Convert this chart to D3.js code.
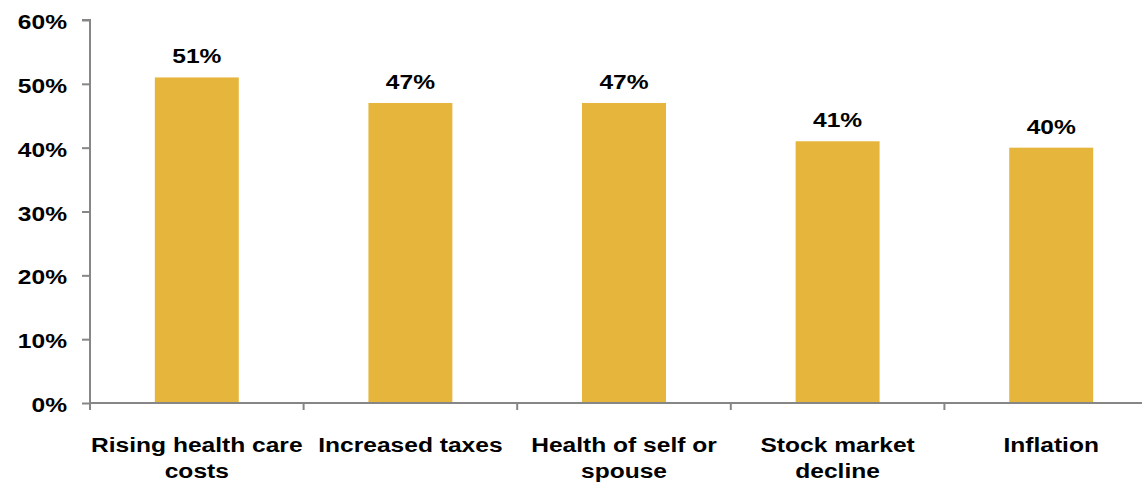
<!DOCTYPE html>
<html>
<head>
<meta charset="utf-8">
<script src="https://cdn.jsdelivr.net/npm/d3@7"></script>
<style>
  html, body { margin: 0; padding: 0; background: #fff; }
  svg { display: block; font-family: "Liberation Sans", Arial, sans-serif; }
</style>
</head>
<body>
<svg id="chart" width="1142" height="485"></svg>
<script>
// Top retirement concerns (share of respondents)
const categories = [
  "Rising health care\ncosts",
  "Increased taxes",
  "Health of self or\nspouse",
  "Stock market\ndecline",
  "Inflation"
];
const values = [51, 47, 47, 41, 40];
const yTicks = [0, 10, 20, 30, 40, 50, 60];

const svg = d3.select("#chart");
const barColor = "#E6B53B";
const axisColor = "#868686";
const fontSize = 21;
const stretch = 1.17;   // wide lettering used throughout the chart

// Plot area: the last category extends past the right edge of the page
const x = d3.scaleBand()
  .domain(categories)
  .range([90, 1158])
  .paddingInner(0.607)
  .paddingOuter(0.3035);

const y = d3.scaleLinear()
  .domain([0, 60])
  .range([403, 20]);

// Bars
svg.append("g")
  .selectAll("rect")
  .data(values)
  .join("rect")
  .attr("x", (d, i) => x(categories[i]))
  .attr("y", d => y(d))
  .attr("width", x.bandwidth())
  .attr("height", d => y(0) - y(d))
  .attr("fill", barColor);

// Value labels
svg.append("g")
  .selectAll("text")
  .data(values)
  .join("text")
  .attr("transform", (d, i) =>
    `translate(${x(categories[i]) + x.bandwidth() / 2},${y(d) - 14}) scale(${stretch},1)`)
  .attr("text-anchor", "middle")
  .attr("font-size", fontSize)
  .attr("font-weight", "bold")
  .attr("fill", "#000")
  .text(d => d + "%");

// Y axis
const yAxis = svg.append("g")
  .attr("transform", "translate(90,0)")
  .call(d3.axisLeft(y).tickValues(yTicks).tickSize(8).tickFormat(d => d + "%"));
yAxis.select(".domain").attr("stroke", axisColor).attr("stroke-width", 2)
  .attr("d", `M-8,${y(60)}H0V${y(0)}`);
yAxis.selectAll(".tick line").attr("stroke", axisColor).attr("stroke-width", 2);
yAxis.selectAll(".tick text")
  .attr("x", 0)
  .attr("dy", 0)
  .attr("transform", `translate(-23,8.5) scale(${stretch},1)`)
  .attr("text-anchor", "end")
  .attr("font-size", fontSize)
  .attr("font-weight", "bold")
  .attr("fill", "#000")
  .attr("font-family", "Liberation Sans, Arial, sans-serif");

// X axis: ticks sit on the category boundaries
const boundaries = d3.range(categories.length + 1).map(i => 90 + i * x.step());
const xAxisG = svg.append("g");
xAxisG.append("line")
  .attr("x1", 90).attr("x2", 1158)
  .attr("y1", y(0)).attr("y2", y(0))
  .attr("stroke", axisColor).attr("stroke-width", 2);
xAxisG.selectAll("line.tick")
  .data(boundaries)
  .join("line")
  .attr("class", "tick")
  .attr("x1", d => d).attr("x2", d => d)
  .attr("y1", y(0)).attr("y2", y(0) + 7)
  .attr("stroke", axisColor).attr("stroke-width", 2);

// Category labels, one tspan per line
const labels = svg.append("g")
  .selectAll("text")
  .data(categories)
  .join("text")
  .attr("transform", d => `translate(${x(d) + x.bandwidth() / 2},452) scale(${stretch},1)`)
  .attr("text-anchor", "middle")
  .attr("font-size", fontSize)
  .attr("font-weight", "bold")
  .attr("fill", "#000");
labels.each(function (d) {
  const t = d3.select(this);
  d.split("\n").forEach((line, i) => {
    t.append("tspan")
      .attr("x", 0)
      .attr("dy", i === 0 ? 0 : 26)
      .text(line);
  });
});
</script>
</body>
</html>
